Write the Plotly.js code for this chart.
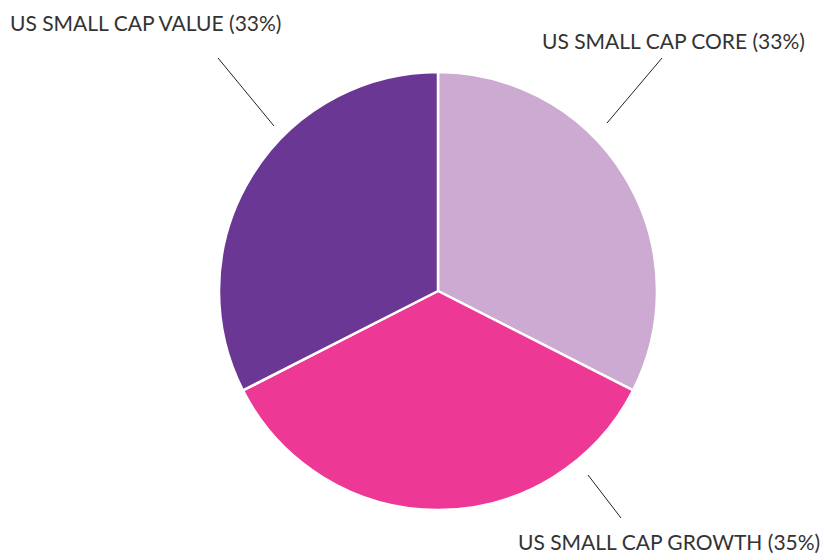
<!DOCTYPE html>
<html>
<head>
<meta charset="utf-8">
<script src="https://cdn.plot.ly/plotly-3.0.1.min.js"></script>
<style>html,body{margin:0;padding:0;background:#fff;}#chart{width:832px;height:555px;}</style>
</head>
<body>
<div id="chart"></div>
<script>
const labels = ["US SMALL CAP CORE", "US SMALL CAP GROWTH", "US SMALL CAP VALUE"];
const values = [32.5, 35, 32.5];
const pctLabels = ["33%", "35%", "33%"];
const colors = ["#CDAAD2", "#EE3896", "#6B3794"];

const W = 832, H = 555;
const px = x => x / W;
const py = y => 1 - y / H;

// label placement (pixels) and leader lines (pixels)
const labelPos = [
  {x: 806, y: 40, xanchor: "right", yanchor: "middle"},
  {x: 821, y: 555, xanchor: "right", yanchor: "bottom"},
  {x: 9, y: 22, xanchor: "left", yanchor: "middle"}
];
const leaders = [
  [607, 123, 662, 58],
  [588, 475, 621, 518],
  [274, 126, 218, 58]
];

const font = {family: "Lato, 'Noto Sans', sans-serif", size: 21, color: "#333333"};

const annotations = labels.map((l, i) => ({
  xref: "paper", yref: "paper",
  x: px(labelPos[i].x), y: py(labelPos[i].y),
  xanchor: labelPos[i].xanchor, yanchor: labelPos[i].yanchor,
  text: l + " (" + pctLabels[i] + ")",
  showarrow: false,
  borderpad: 0,
  font: font
}));

const shapes = leaders.map(s => ({
  type: "line", xref: "paper", yref: "paper",
  x0: px(s[0]), y0: py(s[1]), x1: px(s[2]), y1: py(s[3]),
  line: {color: "#222222", width: 1}
}));

const data = [{
  type: "pie",
  labels: labels,
  values: values,
  sort: false,
  direction: "clockwise",
  rotation: 0,
  textinfo: "none",
  hoverinfo: "label+percent",
  marker: {colors: colors, line: {color: "#ffffff", width: 2.5}},
  domain: {x: [px(219), px(657)], y: [py(510), py(72)]}
}];

const layout = {
  width: W, height: H,
  margin: {l: 0, r: 0, t: 0, b: 0},
  showlegend: false,
  paper_bgcolor: "#ffffff",
  annotations: annotations,
  shapes: shapes
};

Plotly.newPlot("chart", data, layout, {displayModeBar: false, staticPlot: true});
</script>
</body>
</html>
